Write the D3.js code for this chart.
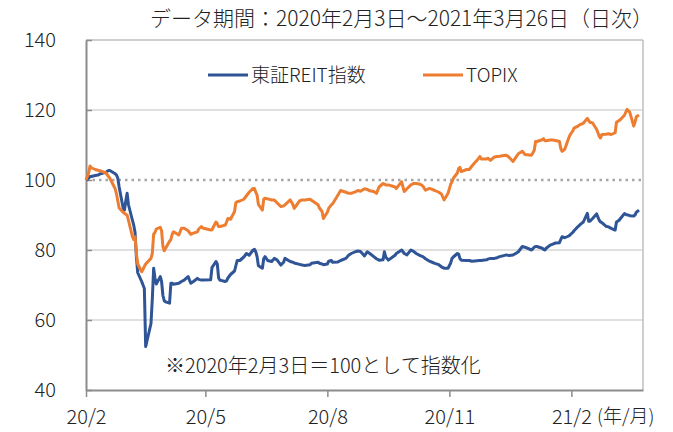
<!DOCTYPE html>
<html>
<head>
<meta charset="utf-8">
<script src="https://cdn.jsdelivr.net/npm/d3@7"></script>
<style>
  body { margin: 0; background: #fff; }
  text { font-family: "Noto Sans CJK JP", "Noto Sans", sans-serif; font-weight: 300; fill: #222; }
</style>
</head>
<body>
<svg id="chart" width="673" height="432"></svg>
<script>
// 日付（営業日を間引いたもの）
var dates = [
  "2020-02-03","2020-02-05","2020-02-06","2020-02-07","2020-02-10","2020-02-12","2020-02-14","2020-02-18","2020-02-20","2020-02-21",
  "2020-02-25","2020-02-26","2020-02-27","2020-02-28","2020-03-02","2020-03-03","2020-03-04","2020-03-05","2020-03-06","2020-03-09",
  "2020-03-10","2020-03-11","2020-03-12","2020-03-13","2020-03-16","2020-03-17","2020-03-18","2020-03-19","2020-03-23","2020-03-24",
  "2020-03-25","2020-03-26","2020-03-27","2020-03-30","2020-03-31","2020-04-01","2020-04-02","2020-04-03","2020-04-06","2020-04-07",
  "2020-04-08","2020-04-09","2020-04-13","2020-04-15","2020-04-17","2020-04-20","2020-04-22","2020-04-24","2020-04-27","2020-04-28",
  "2020-04-30","2020-05-01","2020-05-07","2020-05-08","2020-05-11","2020-05-12","2020-05-13","2020-05-14","2020-05-18","2020-05-19",
  "2020-05-20","2020-05-22","2020-05-25","2020-05-26","2020-05-27","2020-05-29","2020-06-01","2020-06-03","2020-06-05","2020-06-08",
  "2020-06-09","2020-06-10","2020-06-11","2020-06-12","2020-06-15","2020-06-16","2020-06-17","2020-06-19","2020-06-22","2020-06-24",
  "2020-06-26","2020-06-29","2020-07-01","2020-07-02","2020-07-06","2020-07-08","2020-07-09","2020-07-13","2020-07-15","2020-07-17",
  "2020-07-21","2020-07-22","2020-07-27","2020-07-28","2020-07-30","2020-07-31","2020-08-03","2020-08-04","2020-08-06","2020-08-07",
  "2020-08-11","2020-08-13","2020-08-17","2020-08-19","2020-08-21","2020-08-24","2020-08-26","2020-08-28","2020-08-31","2020-09-02",
  "2020-09-04","2020-09-07","2020-09-09","2020-09-11","2020-09-14","2020-09-15","2020-09-16","2020-09-18","2020-09-23","2020-09-24",
  "2020-09-28","2020-09-29","2020-09-30","2020-10-02","2020-10-05","2020-10-07","2020-10-09","2020-10-12","2020-10-14","2020-10-16",
  "2020-10-19","2020-10-21","2020-10-23","2020-10-26","2020-10-28","2020-10-30","2020-11-02","2020-11-04","2020-11-05","2020-11-06",
  "2020-11-09","2020-11-10","2020-11-11","2020-11-12","2020-11-16","2020-11-18","2020-11-20","2020-11-24","2020-11-25","2020-11-26",
  "2020-11-27","2020-12-01","2020-12-02","2020-12-04","2020-12-07","2020-12-09","2020-12-11","2020-12-14","2020-12-16","2020-12-18",
  "2020-12-21","2020-12-23","2020-12-25","2020-12-28","2020-12-30","2021-01-04","2021-01-06","2021-01-07","2021-01-08","2021-01-12",
  "2021-01-13","2021-01-14","2021-01-15","2021-01-18","2021-01-20","2021-01-22","2021-01-25","2021-01-26","2021-01-27","2021-01-29",
  "2021-02-01","2021-02-02","2021-02-04","2021-02-05","2021-02-08","2021-02-10","2021-02-12","2021-02-15","2021-02-16","2021-02-17",
  "2021-02-19","2021-02-22","2021-02-24","2021-02-25","2021-02-26","2021-03-01","2021-03-03","2021-03-05","2021-03-08","2021-03-09",
  "2021-03-11","2021-03-12","2021-03-15","2021-03-17","2021-03-18","2021-03-19","2021-03-22","2021-03-23","2021-03-24","2021-03-26"
];

// 東証REIT指数（2020/2/3＝100）
var reit = [
  100,100.5,101,101,101.3,101.4,101.8,102.2,102.7,102.7,
  101.8,101.4,100.5,98,92,91.4,94,96.2,93,88.5,
  87.1,85,78,73.5,71,70,69,52.4,59,66,
  74.8,72,70.3,72.4,71,67,65.5,65.2,64.8,70.5,
  70.5,70.2,70.5,71,71.4,72.4,70.5,71,71.9,71.6,
  71.4,71.4,71.5,75,76.7,76,72,71.4,71,71.2,
  72,73,74,75.5,77,77,78,79,78.5,80,
  80.2,79.5,78.1,75.5,74.8,77.5,78.1,77,76.7,77.6,
  77.2,75.7,76.5,77.6,76.7,76.5,76.3,75.9,75.7,75.6,
  75.8,76.2,76.5,76.2,76,75.8,76,76.8,77,76.5,
  76.6,77,77.6,78.5,79,79.5,79.7,79.6,78.3,79.5,
  79,78.1,77.5,77.1,77.2,79.5,78,77.1,78.5,79,
  80,79.5,79,78.6,80,79.6,79,78.4,78.1,77.5,
  76.8,76.5,76.2,75.8,75.2,74.8,74.8,76.3,77.6,78,
  79,78.8,77.5,77.1,77,77,76.8,76.9,77,77,
  77,77.2,77.4,77.6,77.6,77.8,78.1,78.4,78.6,78.4,
  78.6,79,79.5,81,80.8,80,80.8,81,81,80.5,
  80.2,80,80.5,81.4,81.7,82,82.1,83,83.8,83.5,
  84,84.3,85,85.5,86.7,87.4,88,90.5,88.2,88.2,
  89,90.3,88.5,88,87.8,86.8,86.6,86.2,85.7,88,
  88.5,89,90.4,90,90,89.8,89.7,90,90.8,91.4
];

// TOPIX（2020/2/3＝100）
var topix = [
  100,102,104,103.5,103,102.8,102.6,102,101,100.5,
  97.5,96,94,92,90.8,90.5,90.2,90,88.5,83.8,
  83,83.8,79,76,73.8,74.5,75.3,76,77.6,79,
  84.5,85,86,86.5,85.5,81,79.8,80.5,82.5,83,
  84.5,85.2,84.3,86.2,86.2,85.5,84.5,84.8,85.2,86,
  86.7,86.3,85.7,85.8,88,87.5,86.7,86.7,87.1,88,
  89,88.8,91,93.5,93.8,94,94.5,95.5,96.5,97.6,
  97.6,96.5,95.7,93,91.4,94.5,94.8,94.6,94.3,94.3,
  93.5,92.4,92.6,92.9,94.3,93,91.9,94,94.3,94.3,
  94.5,94.2,92.9,92,91,89,90.8,91.9,92.9,93.2,
  95.7,97,96.5,96.2,96.2,96.6,97,96.8,97.5,97.3,
  96.9,96.7,96.2,98,99,98.8,98.6,98.6,98,97.6,
  99.5,98,96.7,97.5,98.6,99,99,98.8,98.3,97.1,
  97.6,97.3,97,96.5,96,94.3,96.2,98.8,99.5,100.5,
  102,103.3,103.6,102.4,103,103,104,105.7,106.2,106.7,
  106,106,106.2,105.6,106.6,106.7,106.8,107,107.1,106.5,
  105.3,106.4,107.5,108.2,107.3,107.1,108.5,111,111,111.5,
  111.8,111.2,111.2,111.4,111.4,111.3,111,109,108.2,108.8,
  112,112.9,114,114.8,115.4,115.9,116.2,117.6,117,116.5,
  116.3,114.5,112.5,112,113,113.1,113.2,113,113.5,116.5,
  117,117.3,118.5,120.2,119.8,119.4,115.4,116.5,118.1,118.6
];

var yTicks = [40, 60, 80, 100, 120, 140];
var xTickDates = ["2020-02-03", "2020-05-03", "2020-08-03", "2020-11-03", "2021-02-03"];
var seriesNames = ["東証REIT指数", "TOPIX"];
var seriesColors = ["#2f5597", "#ed7d31"];

var parse = d3.timeParse("%Y-%m-%d");
var svg = d3.select("#chart");

var plotLeft = 86, plotRight = 643, plotTop = 40, plotBottom = 390;

var x = d3.scaleTime()
    .domain([parse("2020-02-03"), parse("2021-03-29")])
    .range([plotLeft, plotRight]);

var y = d3.scaleLinear()
    .domain([40, 140])
    .range([plotBottom, plotTop]);

// グリッド（140 は枠の上辺）
svg.append("g")
  .selectAll("line")
  .data(yTicks.filter(function(d) { return d !== 100 && d !== 40; }))
  .enter().append("line")
    .attr("x1", plotLeft).attr("x2", plotRight)
    .attr("y1", function(d) { return y(d); })
    .attr("y2", function(d) { return y(d); })
    .attr("stroke", function(d) { return d === 140 ? "#bfbfbf" : "#d6d6d6"; })
    .attr("stroke-width", 1.5);

// 枠（右）
svg.append("line")
    .attr("x1", plotRight).attr("x2", plotRight)
    .attr("y1", plotTop).attr("y2", plotBottom)
    .attr("stroke", "#bfbfbf").attr("stroke-width", 1.5);

// 100 の点線
svg.append("line")
    .attr("x1", plotLeft).attr("x2", plotRight)
    .attr("y1", y(100)).attr("y2", y(100))
    .attr("stroke", "#a6a6a6")
    .attr("stroke-width", 2.5)
    .attr("stroke-dasharray", "2.5,4");

// y 軸
var yAxis = svg.append("g")
    .attr("transform", "translate(" + plotLeft + ",0)")
    .call(d3.axisRight(y).tickValues(yTicks).tickSize(6).tickSizeOuter(0).tickFormat(""));
yAxis.select(".domain").attr("stroke", "#8c8c8c").attr("stroke-width", 2);
yAxis.selectAll(".tick line").attr("stroke", "#8c8c8c").attr("stroke-width", 1.5);

svg.append("g")
  .selectAll("text")
  .data(yTicks)
  .enter().append("text")
    .attr("x", 56)
    .attr("y", function(d) { return y(d); })
    .attr("dy", "0.35em")
    .attr("text-anchor", "end")
    .style("font-size", "20px")
    .text(function(d) { return d; });

// x 軸
var fmt = d3.timeFormat("%y/%-m");
var xAxis = svg.append("g")
    .attr("transform", "translate(0," + plotBottom + ")")
    .call(d3.axisBottom(x).tickValues(xTickDates.map(parse)).tickSize(7).tickSizeOuter(0).tickFormat(fmt));
xAxis.select(".domain").attr("stroke", "#8c8c8c").attr("stroke-width", 2);
xAxis.selectAll(".tick line").attr("stroke", "#8c8c8c").attr("stroke-width", 1.5);
xAxis.selectAll(".tick text")
    .attr("y", 20)
    .style("font-size", "20px")
    .style("font-family", "'Noto Sans CJK JP', sans-serif")
    .style("font-weight", 300)
    .attr("fill", "#222");

svg.append("text")
    .attr("x", 597)
    .attr("y", plotBottom + 20)
    .attr("dy", "0.71em")
    .style("font-size", "19px")
    .text("(年/月)");

// 系列
var line = d3.line()
    .x(function(d) { return x(d.date); })
    .y(function(d) { return y(d.value); });

[reit, topix].forEach(function(vals, i) {
  var pts = vals.map(function(v, j) { return { date: parse(dates[j]), value: v }; });
  svg.append("path")
      .datum(pts)
      .attr("fill", "none")
      .attr("stroke", seriesColors[i])
      .attr("stroke-width", 3)
      .attr("stroke-linejoin", "round")
      .attr("d", line);
});

// 凡例
var legendX = [208, 423];
seriesNames.forEach(function(name, i) {
  svg.append("line")
      .attr("x1", legendX[i]).attr("x2", legendX[i] + 40)
      .attr("y1", 75).attr("y2", 75)
      .attr("stroke", seriesColors[i]).attr("stroke-width", 3);
  svg.append("text")
      .attr("x", legendX[i] + 43)
      .attr("y", 75)
      .attr("dy", "0.35em")
      .style("font-size", "19px")
      .text(name);
});

// タイトル・注記
svg.append("text")
    .attr("x", 150)
    .attr("y", 19)
    .attr("dy", "0.35em")
    .style("font-size", "21px")
    .text("データ期間：2020年2月3日～2021年3月26日（日次）");

svg.append("text")
    .attr("x", 165)
    .attr("y", 366)
    .attr("dy", "0.35em")
    .style("font-size", "20px")
    .text("※2020年2月3日＝100として指数化");
</script>
</body>
</html>
